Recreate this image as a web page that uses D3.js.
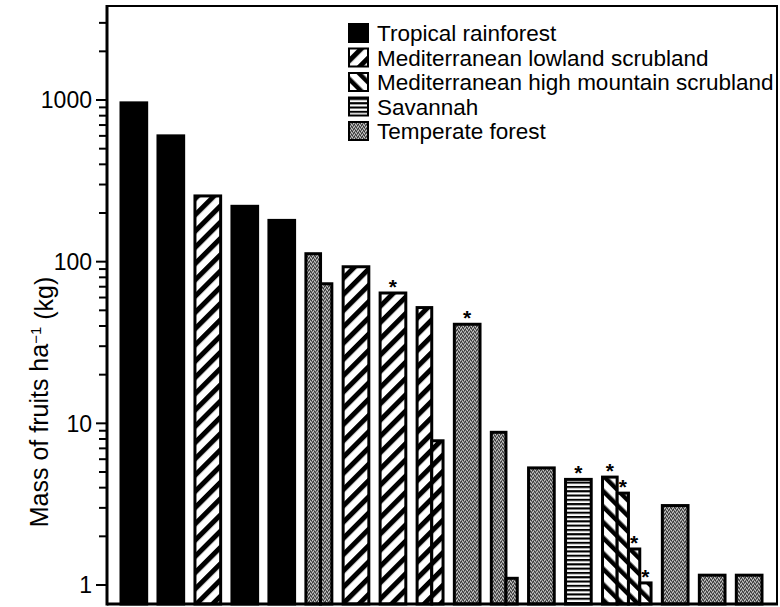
<!DOCTYPE html>
<html>
<head>
<meta charset="utf-8">
<script src="https://cdn.jsdelivr.net/npm/d3@7"></script>
<style>
body { margin: 0; background: #fff; }
text { font-family: "Liberation Sans", Arial, Helvetica, sans-serif; fill: #000; }
</style>
</head>
<body>
<svg width="780" height="607"></svg>
<script>
// biome categories (legend order)
var biomes = ["Tropical rainforest", "Mediterranean lowland scrubland",
  "Mediterranean high mountain scrubland", "Savannah", "Temperate forest"];

// one entry per site, left to right: biome index, bar values (kg/ha), asterisk flags
var siteBiome = [0, 0, 1, 0, 0, 4, 1, 1, 1, 4, 4, 4, 3, 2, 4, 4, 4];
var siteValues = [[960], [600], [255], [220], [180], [112, 73], [93], [64], [52, 7.8],
  [41], [8.8, 1.1], [5.3], [4.5], [4.65, 3.7, 1.67, 1.03], [3.1], [1.15], [1.15]];
var siteStars = [[0], [0], [0], [0], [0], [0, 0], [0], [1], [0, 0],
  [1], [0, 0], [0], [1], [1, 1, 1, 1], [0], [0], [0]];

var majorTicks = [1, 10, 100, 1000];

var svg = d3.select("svg"),
  width = +svg.attr("width"),
  height = +svg.attr("height");

var plotLeft = 107, plotRight = 777, plotTop = 6, plotBottom = 604;

var y = d3.scaleLog()
  .domain([1, 1000])
  .range([585, 100]);

// patterns
var defs = svg.append("defs");

function stripes(id, angle, period, thick) {
  var p = defs.append("pattern")
    .attr("id", id)
    .attr("patternUnits", "userSpaceOnUse")
    .attr("width", period).attr("height", period)
    .attr("patternTransform", "rotate(" + angle + ")");
  p.append("rect").attr("width", period).attr("height", period).attr("fill", "#fff");
  p.append("rect").attr("width", thick).attr("height", period).attr("fill", "#000");
}
stripes("lowland", 45, 11.5, 5);
stripes("highland", -45, 11, 4.5);

var sav = defs.append("pattern")
  .attr("id", "savannah")
  .attr("patternUnits", "userSpaceOnUse")
  .attr("width", 8).attr("height", 4.3);
sav.append("rect").attr("width", 8).attr("height", 4.3).attr("fill", "#fff");
sav.append("rect").attr("width", 8).attr("height", 2.1).attr("fill", "#000");

var temp = defs.append("pattern")
  .attr("id", "temperate")
  .attr("patternUnits", "userSpaceOnUse")
  .attr("width", 4).attr("height", 4);
temp.append("rect").attr("width", 4).attr("height", 4).attr("fill", "#787878");
[[0, 0], [2, 1], [1, 3], [3, 2]].forEach(function(d) {
  temp.append("rect").attr("x", d[0]).attr("y", d[1]).attr("width", 1).attr("height", 1).attr("fill", "#c8c8c8");
});
[[1, 1], [3, 0], [0, 2], [2, 3]].forEach(function(d) {
  temp.append("rect").attr("x", d[0]).attr("y", d[1]).attr("width", 1).attr("height", 1).attr("fill", "#333");
});

var fills = ["#000", "url(#lowland)", "url(#highland)", "url(#savannah)", "url(#temperate)"];

// horizontal layout: single bar = 1 unit, grouped sub-bars share a site slot
var gap = 0.44, bars = [], pos = 0;
siteValues.forEach(function(vals, i) {
  vals.forEach(function(v, j) {
    var w = vals.length == 1 ? 1 : (j == 0 ? 0.57 : 0.44);
    bars.push({ x0: pos, x1: pos + w, value: v, biome: siteBiome[i], star: siteStars[i][j] });
    pos += w;
  });
  pos += gap;
});
pos -= gap;

var x = d3.scaleLinear()
  .domain([0, pos])
  .range([121, 762]);

svg.selectAll(".bar")
  .data(bars)
  .enter().append("rect")
  .attr("class", "bar")
  .attr("x", function(d) { return x(d.x0); })
  .attr("width", function(d) { return x(d.x1) - x(d.x0); })
  .attr("y", function(d) { return y(d.value); })
  .attr("height", function(d) { return plotBottom - y(d.value); })
  .attr("fill", function(d) { return fills[d.biome]; })
  .attr("stroke", "#000")
  .attr("stroke-width", 3);

svg.selectAll(".star")
  .data(bars.filter(function(d) { return d.star; }))
  .enter().append("text")
  .attr("class", "star")
  .attr("x", function(d) { return (x(d.x0) + x(d.x1)) / 2; })
  .attr("y", function(d) { return y(d.value) + 1; })
  .attr("text-anchor", "middle")
  .style("font-size", "21px")
  .style("font-weight", "bold")
  .text("*");

// frame
svg.append("rect")
  .attr("x", plotLeft).attr("y", plotTop)
  .attr("width", plotRight - plotLeft).attr("height", plotBottom - plotTop)
  .attr("fill", "none")
  .attr("stroke", "#000")
  .attr("stroke-width", 2);
svg.append("line")
  .attr("x1", plotLeft).attr("x2", plotLeft).attr("y1", plotTop - 1).attr("y2", plotBottom + 1.5)
  .attr("stroke", "#000").attr("stroke-width", 3);
svg.append("line")
  .attr("x1", plotLeft).attr("x2", plotRight + 1).attr("y1", plotBottom).attr("y2", plotBottom)
  .attr("stroke", "#000").attr("stroke-width", 3);

// y axis ticks
var minorTicks = [];
majorTicks.forEach(function(d) {
  d3.range(2, 10).forEach(function(k) {
    if (y(d * k) > plotTop + 4) minorTicks.push(d * k);
  });
});

svg.selectAll(".minor")
  .data(minorTicks)
  .enter().append("line")
  .attr("x1", plotLeft - 8).attr("x2", plotLeft)
  .attr("y1", function(d) { return y(d); })
  .attr("y2", function(d) { return y(d); })
  .attr("stroke", "#000").attr("stroke-width", 2);

svg.selectAll(".major")
  .data(majorTicks)
  .enter().append("line")
  .attr("x1", plotLeft - 11).attr("x2", plotLeft)
  .attr("y1", function(d) { return y(d); })
  .attr("y2", function(d) { return y(d); })
  .attr("stroke", "#000").attr("stroke-width", 2);

svg.selectAll(".tick-label")
  .data(majorTicks)
  .enter().append("text")
  .attr("x", plotLeft - 15)
  .attr("y", function(d) { return y(d); })
  .attr("dy", "0.36em")
  .attr("text-anchor", "end")
  .style("font-size", "23px")
  .text(function(d) { return d; });

// y axis title
var title = svg.append("text")
  .attr("transform", "translate(48,402) rotate(-90)")
  .attr("text-anchor", "middle")
  .style("font-size", "25px");
title.append("tspan").text("Mass of fruits ha");
title.append("tspan").attr("dy", "-0.5em").style("font-size", "15px").text("\u22121");
title.append("tspan").attr("dy", "0.5em").text(" (kg)");

// legend
var legend = svg.selectAll(".legend")
  .data(biomes)
  .enter().append("g")
  .attr("class", "legend")
  .attr("transform", function(d, i) { return "translate(349," + (33 + i * 24.5) + ")"; });

legend.append("rect")
  .attr("x", 0).attr("y", -9)
  .attr("width", 19).attr("height", 18)
  .attr("fill", function(d, i) { return fills[i]; })
  .attr("stroke", "#000")
  .attr("stroke-width", 2);

legend.append("text")
  .attr("x", 28)
  .attr("dy", "0.36em")
  .style("font-size", "22.5px")
  .text(function(d) { return d; });
</script>
</body>
</html>
